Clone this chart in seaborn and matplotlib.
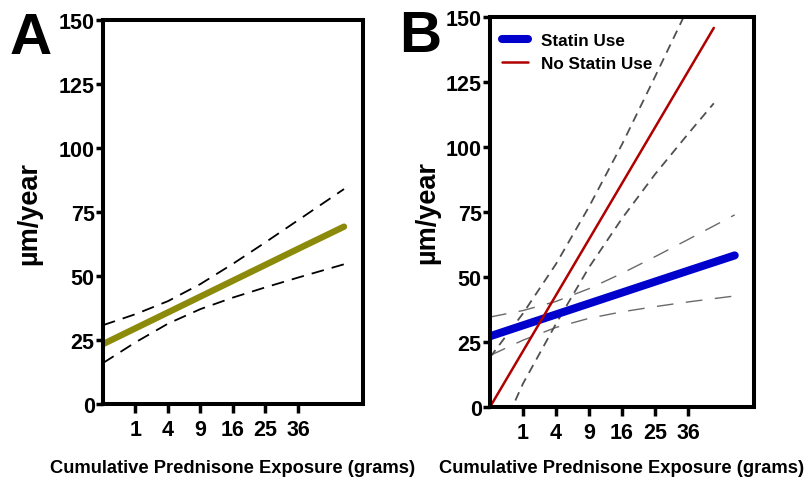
import matplotlib
matplotlib.use("Agg")
import matplotlib.pyplot as plt
import seaborn as sns
import numpy as np
import pandas as pd

sns.set_style("ticks")
plt.rcParams['font.family'] = ['Liberation Sans', 'DejaVu Sans']
plt.rcParams['text.color'] = 'black'
plt.rcParams['axes.labelcolor'] = 'black'
plt.rcParams['xtick.color'] = 'black'
plt.rcParams['ytick.color'] = 'black'

# cumulative prednisone exposure (grams), x axis is square-root scaled
x_ticks = [1, 4, 9, 16, 25, 36]
y_ticks = [0, 25, 50, 75, 100, 125, 150]

# panel A: all patients
a_x = [0, 1, 4, 9, 16, 25, 36, 55]
a_fit = [23.4, 29.6, 35.8, 42.0, 48.2, 54.4, 60.6, 69.3]
a_upper = [30.8, 35.1, 40.2, 46.9, 54.8, 63.2, 71.8, 84.0]
a_lower = [16.0, 24.1, 31.4, 37.1, 41.6, 45.6, 49.4, 54.6]

# panel B: statin users
statin_x = [0, 1, 4, 9, 16, 25, 36, 55]
statin_fit = [27.2, 31.4, 35.6, 39.8, 44.0, 48.2, 52.4, 58.3]
statin_upper = [34.6, 37.1, 40.6, 45.5, 51.4, 57.8, 64.4, 73.9]
statin_lower = [19.8, 25.7, 30.6, 34.1, 36.6, 38.6, 40.4, 42.7]

# panel B: no statin use
nostatin_x = [0, 1, 4, 9, 16, 25, 36, 46]
nostatin_fit = [0.0, 21.5, 43.0, 64.5, 86.0, 107.5, 129.0, 145.8]
nostatin_upper = [19.1, 36.0, 55.0, 77.0, 101.0, 127.0, 153.5, 174.0]
nostatin_lower = [-19.0, 9.0, 32.0, 53.7, 72.5, 89.5, 105.0, 116.8]

fig = plt.figure(figsize=(8.07, 4.81), dpi=100)
ax_a = fig.add_axes([0.1276, 0.158, 0.3222, 0.798])
ax_b = fig.add_axes([0.6072, 0.1518, 0.3271, 0.8108])


def style_axes(ax, xlab_y, ylab_x):
    ax.set_xscale('function', functions=(np.sqrt, np.square))
    ax.set_xlim(0, 64)
    ax.set_ylim(0, 150)
    ax.set_xticks(x_ticks)
    ax.set_yticks(y_ticks)
    ax.set_xticklabels([str(t) for t in x_ticks], fontsize=15.5, fontweight='bold')
    ax.set_yticklabels([str(t) for t in y_ticks], fontsize=15.5, fontweight='bold')
    ax.xaxis.set_minor_locator(matplotlib.ticker.NullLocator())
    for sp in ax.spines.values():
        sp.set_visible(True)
        sp.set_linewidth(2.9)
        sp.set_color('black')
    ax.tick_params(axis='x', length=6.5, width=2.5, pad=4)
    ax.tick_params(axis='y', length=5, width=2.5, pad=1)
    ax.set_xlabel("Cumulative Prednisone Exposure (grams)", fontsize=13.2,
                  fontweight='bold')
    ax.set_ylabel("\u00b5m/year", fontsize=19.5, fontweight='bold')
    ax.xaxis.set_label_coords(0.5, xlab_y)
    ax.yaxis.set_label_coords(ylab_x, 0.5)


# panel A
df_a = pd.DataFrame({'x': a_x, 'fit': a_fit, 'upper': a_upper, 'lower': a_lower})
sns.lineplot(data=df_a, x='x', y='upper', ax=ax_a, color='black', linewidth=1.3,
             linestyle=(0, (7, 4.5)))
sns.lineplot(data=df_a, x='x', y='lower', ax=ax_a, color='black', linewidth=1.3,
             linestyle=(0, (7, 4.5)))
sns.lineplot(data=df_a, x='x', y='fit', ax=ax_a, color='#8c8a0a', linewidth=4.6,
             solid_capstyle='round')
style_axes(ax_a, -0.143, -0.235)

# panel B
df_s = pd.DataFrame({'x': statin_x, 'fit': statin_fit, 'upper': statin_upper,
                     'lower': statin_lower})
df_n = pd.DataFrame({'x': nostatin_x, 'fit': nostatin_fit, 'upper': nostatin_upper,
                     'lower': nostatin_lower})
sns.lineplot(data=df_s, x='x', y='upper', ax=ax_b, color='#6a6a6a', linewidth=1.0,
             linestyle=(0, (12, 9)))
sns.lineplot(data=df_s, x='x', y='lower', ax=ax_b, color='#6a6a6a', linewidth=1.0,
             linestyle=(0, (12, 9)))
sns.lineplot(data=df_n, x='x', y='upper', ax=ax_b, color='#505050', linewidth=1.3,
             linestyle=(0, (5, 3.5)))
sns.lineplot(data=df_n, x='x', y='lower', ax=ax_b, color='#505050', linewidth=1.3,
             linestyle=(0, (5, 3.5)))
sns.lineplot(data=df_s, x='x', y='fit', ax=ax_b, color='#0000cc', linewidth=5.8,
             solid_capstyle='round', label='Statin Use')
sns.lineplot(data=df_n, x='x', y='fit', ax=ax_b, color='#b00000', linewidth=1.8,
             label='No Statin Use')
style_axes(ax_b, -0.133, -0.189)

handles, labels = ax_b.get_legend_handles_labels()
leg = ax_b.legend(handles, labels, loc='upper left', bbox_to_anchor=(0.045, 0.958),
                  frameon=False, borderpad=0, borderaxespad=0, handlelength=1.5,
                  handletextpad=0.8, labelspacing=0.42,
                  prop={'size': 12.3, 'weight': 'bold'})

fig.text(0.012, 0.975, "A", fontsize=42, fontweight='bold', va='top', ha='left')
fig.text(0.494, 0.98, "B", fontsize=42, fontweight='bold', va='top', ha='left')

fig.savefig("out.png", dpi=100)
